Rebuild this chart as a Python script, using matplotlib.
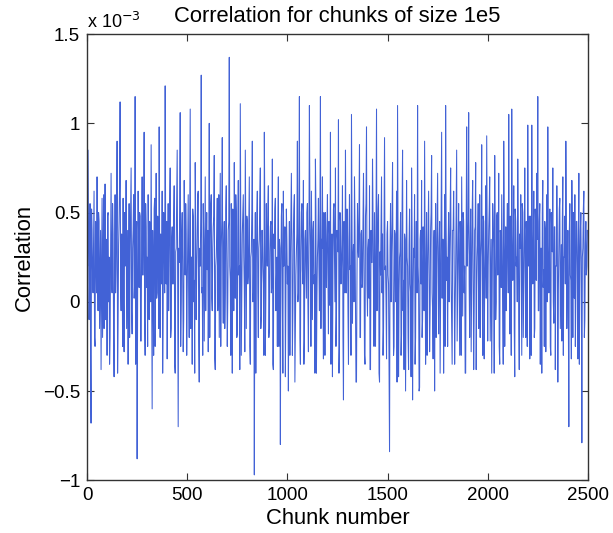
import numpy as np
import matplotlib
matplotlib.use('Agg')
import matplotlib.pyplot as plt
from matplotlib.ticker import FuncFormatter

# correlation per chunk (units of 1e-3), one value every 5 chunks
corr_e3 = [
    0.35, 0.85, -0.1, 0.55, -0.68, 0.4, 0.05, 0.62, -0.25, 0.3, 0.7, -0.05, 0.45, 0.15, -0.38, 0.58, 0.22, -0.15, 0.66, 0.1,
    -0.3, 0.5, 0.25, -0.2, 0.72, 0.05, 0.38, -0.42, 0.6, 0.18, 0.9, -0.12, 0.45, 1.12, -0.05, 0.32, 0.58, -0.28, 0.2, 0.68,
    0.12, -0.35, 0.55, 0.28, 0.75, -0.18, 0.4, 0.02, 1.15, 0.3, -0.88, 0.62, 0.08, 0.48, -0.22, 0.7, 0.15, 0.95, -0.3, 0.42,
    0.25, 0.6, -0.1, 0.35, 0.88, -0.6, 0.18, 0.52, -0.25, 0.72, 0.05, 0.4, 0.98, -0.2, 0.3, 0.62, -0.05, 0.45, 1.21, 0.1,
    -0.32, 0.55, 0.2, 0.75, -0.15, 0.42, 0.1, 0.65, -0.4, 0.3, 0.85, -0.70, 0.22, 1.06, 0.0, 0.5, -0.28, 0.68, 0.15, 0.38,
    0.05, 0.6, -0.2, 1.08, 0.25, -0.35, 0.48, 0.12, 0.78, -0.1, 0.35, 0.62, -0.45, 0.2, 1.27, 0.08, 0.55, -0.22, 0.7, 0.3,
    0.18, -0.28, 1.0, 0.35, 0.6, -0.05, 0.42, 0.82, -0.38, 0.25, 0.58, 0.1, -0.2, 0.72, 0.3, 0.92, -0.12, 0.45, 0.05, 0.65,
    -0.25, 0.4, 1.37, 0.12, 0.55, -0.4, 0.3, 0.78, 0.02, 0.5, -0.18, 0.68, 0.2, 1.11, -0.3, 0.38, 0.6, 0.08, 0.85, -0.15,
    0.45, 0.15, 0.7, -0.35, 0.28, 0.9, 0.05, -0.97, 0.5, 0.22, 0.62, -0.2, 0.35, 0.75, -0.08, 0.4, 0.1, 0.95, -0.3, 0.55,
    0.2, 0.65, -0.15, 0.42, 0.05, 0.8, -0.38, 0.3, 0.58, 0.12, -0.25, 0.7, 0.35, -0.80, 0.48, 0.0, 0.62, 0.25, -0.42, 0.52,
    0.1, -0.5, 0.45, 0.22, 0.72, -0.3, 0.38, 0.6, -0.12, 0.28, 0.9, 0.05, 1.15, -0.35, 0.5, 0.18, 0.68, -0.22, 0.4, 0.02,
    0.55, -0.28, 1.1, 0.3, 0.62, -0.1, 0.45, 0.15, 0.8, -0.4, 0.25, 0.58, -0.05, 1.15, 0.35, 0.7, -0.32, 0.2, 0.5, 0.08,
    0.6, -0.18, 0.38, 0.95, 0.12, -0.42, 0.52, 0.28, 0.75, -0.08, 0.35, 1.02, -0.25, 0.45, 0.18, 0.65, -0.55, 0.3, 0.85, 0.05,
    0.42, -0.35, 0.6, 0.2, 1.05, -0.12, 0.32, 0.7, 0.0, -0.45, 0.55, 0.25, 0.88, -0.2, 0.4, 0.1, 0.72, -0.3, 0.48, 0.98,
    -0.08, 0.35, 0.65, -0.38, 0.22, 0.8, 0.05, 0.5, -0.25, 1.08, 0.3, 0.6, -0.45, 0.15, 0.7, 0.38, -0.15, 0.92, 0.2, -0.32,
    0.45, 0.1, -0.84, 0.55, 0.28, 0.78, -0.3, 0.4, 0.0, 0.62, 1.1, -0.42, 0.25, 0.5, -0.18, 0.85, 0.12, 0.38, -0.5, 0.68,
    0.2, -0.38, 0.52, 0.05, 0.75, -0.55, 0.3, 0.6, -0.2, 0.45, 1.1, 0.1, -0.48, 0.4, 0.68, -0.1, 0.25, 0.9, -0.35, 0.5,
    0.15, 0.62, -0.28, 0.4, 0.82, -0.05, 0.3, -0.5, 0.55, 0.2, 0.72, -0.18, 0.45, 0.05, 0.95, 0.35, -0.4, 0.6, 1.1, 0.12,
    -0.25, 0.5, 0.28, 0.75, -0.12, 0.4, 0.62, -0.35, 0.18, 0.85, 0.08, 0.55, -0.3, 0.35, 0.7, -0.08, 0.45, 0.2, -0.4, 0.98,
    0.3, 1.06, -0.2, 0.52, 0.12, 0.68, -0.38, 0.4, 0.78, 0.05, 0.35, -0.15, 0.6, 0.25, 0.88, -0.3, 0.45, 0.1, 0.65, 0.93,
    -0.22, 0.4, 0.7, 0.05, -0.4, 0.55, 0.3, 0.82, -0.1, 0.48, 0.15, 0.72, -0.35, 0.38, 0.6, 0.0, 0.9, -0.25, 0.42, 0.2,
    0.55, 1.05, -0.18, 0.3, 1.08, 0.12, 0.65, -0.42, 0.45, 0.25, 0.8, -0.1, 0.38, 0.6, -0.3, 0.5, 0.08, 0.75, -0.2, 0.35,
    0.99, 0.2, -0.32, 0.48, 0.99, 0.1, 0.62, -0.15, 0.4, 0.72, 1.15, -0.05, 0.55, 0.3, -0.4, 0.68, 0.18, 0.45, -0.28, 0.6,
    0.98, 0.05, 0.52, -0.3, 0.35, 0.75, -0.12, 0.42, 0.2, 0.65, -0.45, 0.3, 0.58, 0.1, -0.22, 0.7, 0.25, 0.48, 0.9, -0.15,
    0.4, -0.70, 0.55, 0.12, 0.68, -0.2, 0.35, 0.6, 0.02, 0.45, -0.32, 0.72, 0.22, 0.5, -0.79, 0.3, 0.62, -0.1, 0.45, 0.2,
]
# the chunks in between (2.5 chunks later than each value above), units of 1e-3
corr_mid_e3 = [
    0.2, 0.38, 0.1, -0.3, 0.52, 0.15, 0.32, -0.2, 0.45, 0.05, 0.25, 0.5, -0.15, 0.4, 0.15, -0.2, 0.6, 0.2, -0.1, 0.35,
    0.48, 0.0, -0.35, 0.3, 0.12, 0.55, -0.18, 0.2, 0.05, 0.42, -0.4, 0.32, 0.65, 0.1, 0.38, -0.25, 0.0, 0.5, 0.25, -0.15,
    0.4, 0.18, -0.2, 0.52, -0.05, 0.3, 0.6, 0.1, -0.35, 0.45, 0.0, 0.25, 0.5, -0.22, 0.35, 0.15, 0.4, -0.1, 0.55, 0.08,
    -0.25, 0.3, 0.45, 0.0, 0.2, 0.4, -0.3, 0.58, 0.15, 0.02, 0.48, -0.15, 0.25, 0.38, 0.1, -0.4, 0.5, 0.05, 0.3, 0.45,
    0.2, -0.05, 0.52, -0.2, 0.35, 0.1, 0.45, -0.35, 0.28, 0.6, 0.0, 0.3, 0.5, -0.25, 0.4, 0.15, -0.1, 0.35, 0.55, -0.3,
    0.32, 0.08, 0.45, -0.15, 0.25, 0.52, 0.0, -0.4, 0.4, 0.18, 0.6, -0.22, 0.3, 0.48, 0.05, -0.3, 0.35, 0.22, -0.05, 0.5,
    0.4, 0.12, -0.2, 0.55, 0.02, 0.3, 0.48, -0.32, 0.2, 0.38, -0.05, 0.6, 0.25, -0.25, 0.45, 0.1, 0.32, -0.15, 0.52, 0.18,
    0.0, 0.45, 0.2, -0.3, 0.35, 0.52, -0.05, 0.28, 0.6, -0.2, 0.42, 0.15, -0.38, 0.38, 0.05, 0.5, 0.25, -0.28, 0.32, 0.48,
    0.1, 0.4, -0.25, 0.25, 0.5, 0.0, 0.35, 0.15, -0.4, 0.48, 0.05, 0.3, 0.58, -0.15, 0.4, 0.2, -0.3, 0.45, 0.02, 0.32,
    0.5, -0.2, 0.28, 0.45, 0.1, -0.35, 0.38, 0.52, -0.05, 0.25, 0.4, -0.25, 0.3, 0.15, 0.55, -0.4, 0.2, 0.42, 0.0, 0.35,
    0.2, 0.05, -0.3, 0.48, 0.3, -0.05, 0.52, -0.45, 0.15, 0.38, 0.0, 0.45, -0.2, 0.28, 0.55, 0.1, -0.35, 0.35, 0.2, 0.5,
    0.0, 0.32, 0.48, -0.25, 0.25, 0.4, 0.1, -0.4, 0.52, 0.02, 0.35, 0.2, 0.45, -0.15, 0.3, 0.12, 0.5, -0.3, 0.25, 0.4,
    0.15, 0.45, -0.02, -0.35, 0.38, 0.2, 0.55, 0.0, -0.25, 0.4, 0.28, -0.4, 0.5, 0.1, 0.32, -0.2, 0.45, 0.05, 0.25, 0.52,
    -0.05, 0.35, 0.18, -0.3, 0.5, 0.25, 0.0, 0.42, -0.45, 0.15, 0.3, 0.52, -0.2, 0.38, 0.08, 0.45, 0.2, -0.35, 0.55, 0.1,
    0.3, 0.02, -0.38, 0.4, 0.22, 0.48, -0.25, 0.1, 0.35, -0.05, 0.52, -0.4, 0.28, 0.4, 0.05, -0.3, 0.45, 0.18, 0.0, 0.38,
    0.15, -0.4, 0.3, 0.0, 0.45, 0.1, -0.25, 0.38, 0.2, -0.45, 0.4, 0.05, 0.28, -0.3, 0.5, -0.05, -0.38, 0.35, 0.12, 0.25,
    -0.2, 0.32, 0.1, -0.42, 0.4, 0.0, 0.25, -0.35, 0.45, 0.05, 0.2, -0.5, 0.35, 0.1, -0.2, 0.42, -0.05, 0.28, 0.15, -0.3,
    0.38, 0.15, -0.05, 0.5, 0.05, -0.32, 0.4, 0.2, -0.2, 0.45, 0.1, 0.3, -0.4, 0.52, 0.02, 0.35, 0.18, -0.25, 0.42, 0.25,
    0.3, 0.0, 0.48, 0.12, -0.35, 0.4, 0.22, -0.05, 0.52, -0.22, 0.32, 0.15, 0.45, -0.3, 0.28, 0.5, 0.05, -0.4, 0.38, 0.2,
    0.45, 0.1, 0.32, -0.28, 0.5, 0.2, -0.05, 0.42, -0.38, 0.25, 0.55, 0.05, -0.2, 0.35, 0.15, 0.48, -0.32, 0.3, 0.02, 0.4,
    0.2, 0.52, -0.22, 0.35, 0.1, 0.45, -0.4, 0.28, 0.0, 0.5, 0.18, -0.25, 0.4, 0.08, 0.32, -0.35, 0.45, 0.22, -0.05, 0.55,
    0.05, 0.3, 0.48, -0.3, 0.38, 0.15, -0.15, 0.52, 0.2, 0.0, 0.42, -0.38, 0.3, 0.1, 0.55, -0.2, 0.35, 0.2, 0.45, -0.25,
    0.25, 0.48, 0.02, -0.3, 0.4, 0.2, -0.2, 0.52, 0.12, 0.35, -0.05, 0.45, -0.35, 0.3, 0.5, 0.08, -0.25, 0.4, 0.25, 0.0,
    0.35, 0.15, -0.25, 0.5, 0.28, 0.0, 0.42, -0.38, 0.2, 0.38, 0.05, 0.52, -0.15, 0.32, 0.45, -0.3, 0.25, 0.1, 0.5, 0.18,
    -0.05, 0.4, 0.15, -0.32, 0.35, 0.5, 0.02, -0.25, 0.45, 0.2, 0.3, -0.35, 0.4, 0.08, 0.25, 0.52, -0.2, 0.32, 0.15, 0.4,
]
chunk_step = 2.5
x_ticks = [0, 500, 1000, 1500, 2000, 2500]
y_ticks_e3 = [-1, -0.5, 0, 0.5, 1, 1.5]

# interleave the two lists into one series
corr = np.column_stack([corr_e3, corr_mid_e3]).ravel() * 1e-3
chunks = np.arange(len(corr)) * chunk_step

plt.rcParams['font.family'] = ['Liberation Sans', 'DejaVu Sans']

fig = plt.figure(figsize=(6.13, 5.33), dpi=100)
ax = fig.add_axes([0.142, 0.099, 0.817, 0.837])
ax.plot(chunks, corr, color='#4262d6', linewidth=0.75)

ax.set_xlim(0, 2500)
ax.set_ylim(-1e-3, 1.5e-3)
ax.set_xticks(x_ticks)
ax.set_yticks([v * 1e-3 for v in y_ticks_e3])
ax.yaxis.set_major_formatter(FuncFormatter(lambda v, p: ('%g' % round(v * 1e3, 3)).replace('-', '\u2212')))
ax.tick_params(direction='in', top=True, right=True, labelsize=13.5, length=5, color='#333333', pad=5)
for s in ax.spines.values():
    s.set_color('#333333')
    s.set_linewidth(1.0)

ax.text(0.0, 1.005, 'x 10$^{-3}$', transform=ax.transAxes, fontsize=13, ha='left', va='bottom')
ax.set_title('Correlation for chunks of size 1e5', fontsize=15.8, pad=9)
ax.set_xlabel('Chunk number', fontsize=15.8, labelpad=3)
ax.set_ylabel('Correlation', fontsize=15.8, labelpad=6)

fig.savefig('out.png', dpi=100)
